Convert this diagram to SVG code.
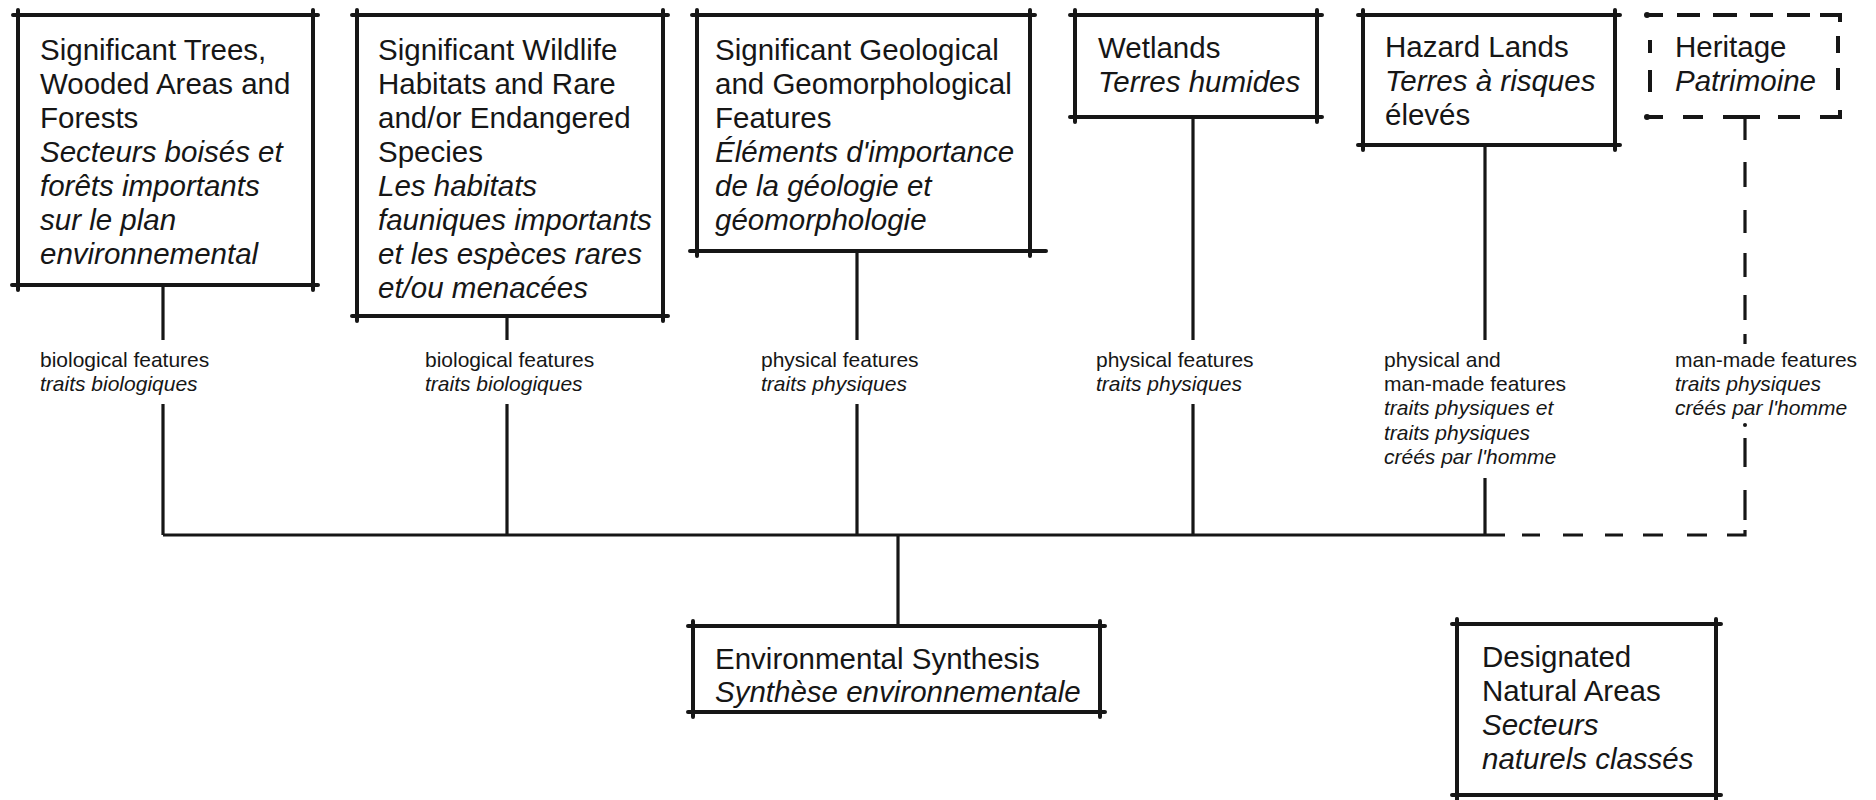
<svg xmlns="http://www.w3.org/2000/svg" width="1876" height="800" viewBox="0 0 1876 800">
<style>
.bx{stroke:#161616;stroke-width:4;stroke-linecap:round;fill:none}
.dbx{stroke:#161616;stroke-width:4;stroke-linecap:butt;fill:none}
.cn{stroke:#161616;stroke-width:3.2;fill:none}
.dcn{stroke:#161616;stroke-width:3.2;fill:none}
.t{font-family:"Liberation Sans",Arial,sans-serif;font-size:29.5px;fill:#161616}
.l{font-family:"Liberation Sans",Arial,sans-serif;font-size:21px;fill:#161616}
.i{font-style:italic}
</style>
<rect width="1876" height="800" fill="#fff"/>

<g id="connectors">
<path class="cn" d="M163 285V340M163 404V535"/>
<path class="cn" d="M507 316V340M507 404V535"/>
<path class="cn" d="M857 251V340M857 404V535"/>
<path class="cn" d="M1193 117V340M1193 404V535"/>
<path class="cn" d="M1485 145V340M1485 478V535"/>
<path class="cn" d="M163 535H1505"/>
<path class="cn" d="M898 535V626"/>
<path class="dcn" d="M1745 117V140M1745 162V187M1745 210V233M1745 253V277M1745 295V320M1745 334V344M1745 438V467M1745 490V520M1745 530V535H1727M1707 535H1687M1663 535H1643M1623 535H1605M1583 535H1563M1540 535H1522"/>
<circle cx="1745" cy="425" r="2" fill="#161616"/>
</g>

<g id="lbl-bio1" class="l">
<text x="40" y="367">biological features</text>
<text x="40" y="391" class="i">traits biologiques</text>
</g>
<g id="lbl-bio2" class="l">
<text x="425" y="367">biological features</text>
<text x="425" y="391" class="i">traits biologiques</text>
</g>
<g id="lbl-phys1" class="l">
<text x="761" y="367">physical features</text>
<text x="761" y="391" class="i">traits physiques</text>
</g>
<g id="lbl-phys2" class="l">
<text x="1096" y="367">physical features</text>
<text x="1096" y="391" class="i">traits physiques</text>
</g>
<g id="lbl-physman" class="l">
<text x="1384" y="367">physical and</text>
<text x="1384" y="391">man-made features</text>
<text x="1384" y="415" class="i">traits physiques et</text>
<text x="1384" y="440" class="i">traits physiques</text>
<text x="1384" y="464" class="i">créés par l'homme</text>
</g>
<g id="lbl-man" class="l">
<text x="1675" y="367">man-made features</text>
<text x="1675" y="391" class="i">traits physiques</text>
<text x="1675" y="415" class="i">créés par l'homme</text>
</g>

<g id="trees">
<path class="bx" d="M13 15H318M18 10V290M313 10V290M12 285H318"/>
<g class="t">
<text x="40" y="60">Significant Trees,</text>
<text x="40" y="94">Wooded Areas and</text>
<text x="40" y="128">Forests</text>
<text x="40" y="162" class="i">Secteurs boisés et</text>
<text x="40" y="196" class="i">forêts importants</text>
<text x="40" y="230" class="i">sur le plan</text>
<text x="40" y="264" class="i">environnemental</text>
</g>
</g>

<g id="wildlife">
<path class="bx" d="M352 15H668M357 10V321M663 10V321M352 316H668"/>
<g class="t">
<text x="378" y="60">Significant Wildlife</text>
<text x="378" y="94">Habitats and Rare</text>
<text x="378" y="128">and/or Endangered</text>
<text x="378" y="162">Species</text>
<text x="378" y="196" class="i">Les habitats</text>
<text x="378" y="230" class="i">fauniques importants</text>
<text x="378" y="264" class="i">et les espèces rares</text>
<text x="378" y="298" class="i">et/ou menacées</text>
</g>
</g>

<g id="geological">
<path class="bx" d="M692 15H1035M697 10V256M1030 10V256M690 251H1046"/>
<g class="t">
<text x="715" y="60">Significant Geological</text>
<text x="715" y="94">and Geomorphological</text>
<text x="715" y="128">Features</text>
<text x="715" y="162" class="i">Éléments d'importance</text>
<text x="715" y="196" class="i">de la géologie et</text>
<text x="715" y="230" class="i">géomorphologie</text>
</g>
</g>

<g id="wetlands">
<path class="bx" d="M1070 15H1322M1075 10V122M1317 10V122M1070 117H1322"/>
<g class="t">
<text x="1098" y="58">Wetlands</text>
<text x="1098" y="92" class="i">Terres humides</text>
</g>
</g>

<g id="hazard">
<path class="bx" d="M1358 15H1620M1363 10V150M1615 10V150M1358 145H1620"/>
<g class="t">
<text x="1385" y="57">Hazard Lands</text>
<text x="1385" y="91" class="i">Terres à risques</text>
<text x="1385" y="125">élevés</text>
</g>
</g>

<g id="heritage">
<path class="dbx" d="M1647 15H1663M1677 15H1700M1713 15H1737M1750 15H1773M1787 15H1810M1820 15H1840V22"/>
<path class="dbx" d="M1647 117H1663M1683 117H1703M1723 117H1760M1778 117H1800M1820 117H1840V110"/>
<path class="dbx" d="M1650 40V53M1650 70V92M1838 36V53M1838 68V90"/>
<circle cx="1647" cy="15" r="3" fill="#161616"/>
<circle cx="1647" cy="117" r="3" fill="#161616"/>
<g class="t">
<text x="1675" y="57">Heritage</text>
<text x="1675" y="91" class="i">Patrimoine</text>
</g>
</g>

<g id="synthesis">
<path class="bx" d="M688 626H1105M693 621V717M1100 621V717M688 712H1105"/>
<g class="t">
<text x="715" y="669">Environmental Synthesis</text>
<text x="715" y="702" class="i">Synthèse environnementale</text>
</g>
</g>

<g id="designated">
<path class="bx" d="M1452 624H1721M1457 619V800M1716 619V800M1452 795H1721"/>
<g class="t">
<text x="1482" y="667">Designated</text>
<text x="1482" y="701">Natural Areas</text>
<text x="1482" y="735" class="i">Secteurs</text>
<text x="1482" y="769" class="i">naturels classés</text>
</g>
</g>
</svg>
